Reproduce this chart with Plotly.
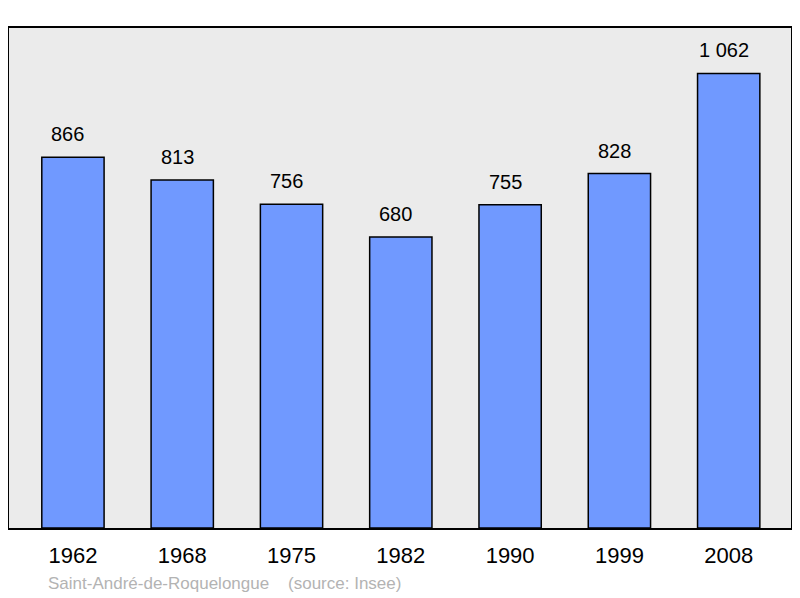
import plotly.graph_objects as go

years = ["1962", "1968", "1975", "1982", "1990", "1999", "2008"]
population = [866, 813, 756, 680, 755, 828, 1062]
labels = ["866", "813", "756", "680", "755", "828", "1 062"]

fig = go.Figure()
fig.add_trace(go.Bar(
    x=list(range(len(years))), y=population,
    width=0.57,
    marker=dict(color="#7099ff", line=dict(color="#000000", width=1.5)),
    hoverinfo="skip",
))
for i, (v, t) in enumerate(zip(population, labels)):
    fig.add_annotation(x=i, y=v, text=t, showarrow=False, yanchor="bottom",
                       yshift=10, xshift=-5, font=dict(size=20, color="#000000"))

fig.add_annotation(xref="paper", yref="paper", x=0.047, y=-0.11, xanchor="left",
                   yanchor="middle", showarrow=False,
                   text="Saint-André-de-Roquelongue    (source: Insee)",
                   font=dict(size=17, color="#b3b3b3"))

fig.update_layout(
    width=792, height=590,
    margin=dict(l=1, r=9, t=20, b=70),
    paper_bgcolor="#ffffff", plot_bgcolor="#ebebeb",
    font=dict(family="Liberation Sans, Arial, sans-serif", color="#000000"),
    showlegend=False,
    xaxis=dict(range=[-0.585, 6.57], tickmode="array",
               tickvals=list(range(len(years))), ticktext=years,
               showgrid=False, zeroline=False, showline=True, linecolor="#000000",
               linewidth=2, mirror=True, ticks="outside", ticklen=7,
               tickcolor="rgba(0,0,0,0)", tickfont=dict(size=22, color="#000000")),
    yaxis=dict(range=[0, 1168], showgrid=False, zeroline=False, showticklabels=False,
               showline=True, linecolor="#000000", linewidth=2, mirror=True),
)
fig.write_html("out.html")
